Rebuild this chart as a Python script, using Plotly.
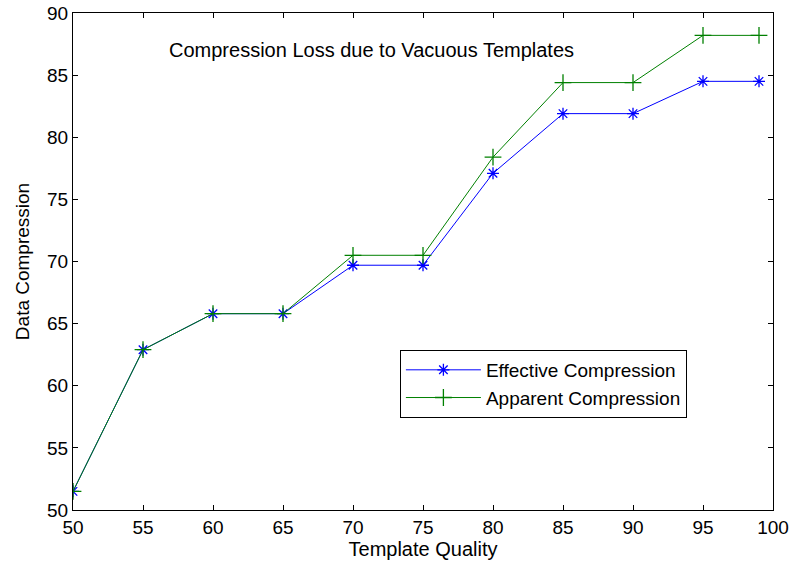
import plotly.graph_objects as go

quality = [50, 55, 60, 65, 70, 75, 80, 85, 90, 95, 99]
effective = [51.5, 62.9, 65.8, 65.8, 69.7, 69.7, 77.1, 81.9, 81.9, 84.5, 84.5]
apparent = [51.5, 62.9, 65.8, 65.8, 70.5, 70.5, 78.4, 84.4, 84.4, 88.2, 88.2]
x_ticks = [50, 55, 60, 65, 70, 75, 80, 85, 90, 95, 100]
y_ticks = [50, 55, 60, 65, 70, 75, 80, 85, 90]

font = "Liberation Sans, Arial, sans-serif"

fig = go.Figure()
fig.add_trace(go.Scatter(
    x=quality, y=effective, mode="lines+markers", name="Effective Compression",
    line=dict(color="#0000ff", width=1),
    marker=dict(symbol="asterisk-open", size=10, color="#0000ff", line=dict(color="#0000ff", width=1.3)),
))
fig.add_trace(go.Scatter(
    x=quality, y=apparent, mode="lines+markers", name="Apparent Compression",
    line=dict(color="#008000", width=1),
    marker=dict(symbol="cross-thin-open", size=12, color="#008000", line=dict(color="#008000", width=1.3)),
))

axis_common = dict(
    showline=True, linecolor="black", linewidth=1, mirror="allticks", automargin=False,
    ticks="inside", ticklen=5, tickcolor="black", showgrid=False, zeroline=False,
    tickfont=dict(family=font, size=19, color="black"),
)
fig.update_xaxes(range=[50, 100], tickvals=x_ticks, title=dict(text="Template Quality", font=dict(family=font, size=20, color="black"), standoff=4), **axis_common)
fig.update_yaxes(range=[50, 90], tickvals=y_ticks, title=dict(text="Data Compression", font=dict(family=font, size=19, color="black"), standoff=12), **axis_common)

fig.add_annotation(
    text="Compression Loss due to Vacuous Templates", x=0.427, y=0.926, xref="paper", yref="paper",
    showarrow=False, font=dict(family=font, size=20, color="black"), xanchor="center", yanchor="middle",
)

fig.update_layout(
    width=794, height=565, margin=dict(l=73, r=21, t=13, b=55),
    paper_bgcolor="white", plot_bgcolor="white",
    font=dict(family=font, size=19, color="black"),
    showlegend=True,
    legend=dict(x=0.467, y=0.322, xanchor="left", yanchor="top", bordercolor="black", borderwidth=1,
                bgcolor="white", font=dict(family=font, size=19, color="black"), itemwidth=75,
                tracegroupgap=0),
)

fig.write_html("out.html")
